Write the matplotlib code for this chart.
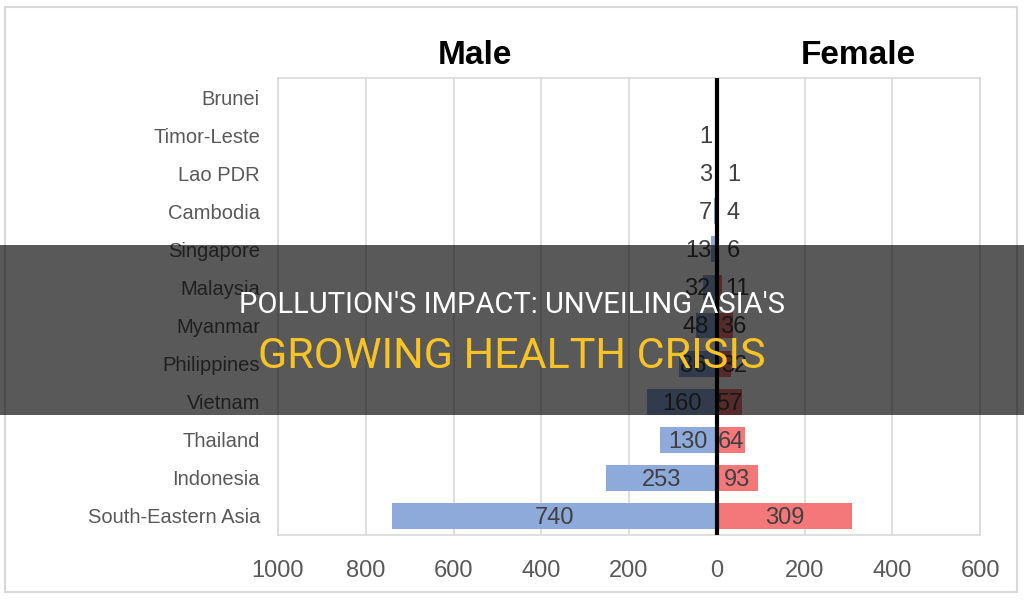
import matplotlib
matplotlib.use("Agg")
import matplotlib.pyplot as plt
from matplotlib.patches import Rectangle
from matplotlib.ticker import FixedLocator, FuncFormatter

categories = ["Brunei", "Timor-Leste", "Lao PDR", "Cambodia", "Singapore",
              "Malaysia", "Myanmar", "Philippines", "Vietnam", "Thailand",
              "Indonesia", "South-Eastern Asia"]
male = [0, 1, 3, 7, 13, 32, 48, 86, 160, 130, 253, 740]
female = [0, 0, 1, 4, 6, 11, 36, 32, 57, 64, 93, 309]
xticks = [-1000, -800, -600, -400, -200, 0, 200, 400, 600]
banner_line1 = "POLLUTION'S IMPACT: UNVEILING ASIA'S"
banner_line2 = "GROWING HEALTH CRISIS"

plt.rcParams['font.family'] = ['Liberation Sans', 'DejaVu Sans']

fig = plt.figure(figsize=(10.24, 6.0), dpi=100)
fig.patch.set_facecolor("white")
ax = fig.add_axes([278/1024, 1-535/600, (980-278)/1024, (535-78)/600])

n = len(categories)
ypos = list(range(n))
MALE_C = "#8eaadb"
FEMALE_C = "#f4787a"
ax.barh(ypos, [-v for v in male], height=0.68, color=MALE_C, zorder=2)
ax.barh(ypos, female, height=0.68, color=FEMALE_C, zorder=2)

ax.set_xlim(-1000, 600)
ax.set_ylim(n - 0.5, -0.5)
ax.xaxis.set_major_locator(FixedLocator(xticks))
ax.xaxis.set_major_formatter(FuncFormatter(lambda v, p: f"{abs(int(v))}"))
ax.set_yticks(ypos)
ax.set_yticklabels(categories)
ax.tick_params(axis='y', length=0, pad=13, labelsize=14.5, labelcolor="#595959")
ax.tick_params(axis='x', length=0, pad=18, labelsize=17, labelcolor="#595959")
ax.grid(axis='x', color="#d9d9d9", linewidth=1.2, zorder=0)
ax.set_axisbelow(True)
for s in ax.spines.values():
    s.set_color("#d9d9d9")
    s.set_linewidth(1.2)
ax.axvline(0, color="black", linewidth=3, zorder=4)

LBL = "#404040"
for i, (m, f) in enumerate(zip(male, female)):
    yl = i + 0.05
    if m > 0:
        if m >= 90:
            ax.text(-m/2, yl, f"{m}", ha='center', va='center', fontsize=17, color=LBL, zorder=5)
        else:
            ax.text(-(10 + m/6), yl, f"{m}", ha='right', va='center', fontsize=17, color=LBL, zorder=5)
    if f > 0:
        if f >= 50:
            ax.text(f/2, yl, f"{f}", ha='center', va='center', fontsize=17, color=LBL, zorder=5)
        else:
            ax.text(max(25 - f/2, 5), yl, f"{f}", ha='left', va='center', fontsize=17, color=LBL, zorder=5)

fig.text(475/1024, 1-56/600, "Male", ha='center', va='center', fontsize=24,
         fontweight='bold', color="black")
fig.text(858/1024, 1-56/600, "Female", ha='center', va='center', fontsize=24,
         fontweight='bold', color="black")

# chart border
fig.patches.append(Rectangle((5/1024, 1-592/600), 1012/1024, 585/600,
                             transform=fig.transFigure, fill=False,
                             edgecolor="#d9d9d9", linewidth=1.5, zorder=10))

# overlay banner
fig.patches.append(Rectangle((0, 1-415/600), 1, 170/600, transform=fig.transFigure,
                             facecolor="black", alpha=0.65, edgecolor='none', zorder=20))
fig.text(0.5, 1-305/600, banner_line1, ha='center', va='center', fontsize=21,
         color="white", family=['Roboto', 'DejaVu Sans'], zorder=21)
fig.text(0.5, 1-357/600, banner_line2, ha='center', va='center', fontsize=31,
         color="#f7c325", family=['Roboto', 'DejaVu Sans'], zorder=21)

fig.savefig("out.png", dpi=100, facecolor="white")
